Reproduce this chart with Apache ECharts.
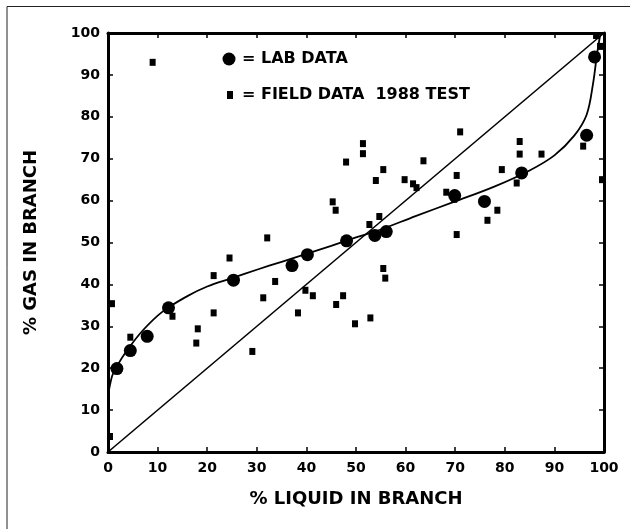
<!DOCTYPE html>
<html>
<head>
<meta charset="utf-8">
<script src="https://cdn.jsdelivr.net/npm/echarts@6/dist/echarts.min.js"></script>
<style>
  html, body { margin: 0; padding: 0; background: #fff; }
  #chart { width: 630px; height: 529px; }
</style>
</head>
<body>
<div id="chart"></div>
<script>
// lab data (circles)
var labX = [1.8, 4.5, 7.9, 12.2, 25.3, 37.1, 40.2, 48.1, 53.8, 56.1, 69.9, 75.9, 83.4, 96.5, 98.1];
var labY = [19.9, 24.2, 27.6, 34.4, 41.0, 44.5, 47.1, 50.4, 51.7, 52.6, 61.2, 59.8, 66.6, 75.6, 94.3];

// field data 1988 test (squares)
var fieldX = [0.8, 0.4, 9.0, 4.5, 13.0, 17.8, 18.1, 21.3, 21.3, 24.5, 29.1, 31.3, 32.1, 33.7, 38.3, 39.8, 41.3,
  46.0, 45.3, 45.9, 47.4, 48.0, 49.8, 51.4, 51.4, 52.9, 52.7, 54.0, 54.7, 55.5, 55.5, 55.9, 59.8, 61.5, 62.2,
  63.6, 68.2, 70.3, 70.3, 69.8, 71.0, 76.5, 78.5, 79.4, 82.4, 83.0, 83.0, 87.4, 95.8, 99.2, 98.4, 99.6];
var fieldY = [35.4, 3.7, 93.0, 27.4, 32.4, 26.0, 29.4, 33.2, 42.1, 46.3, 24.0, 36.8, 51.1, 40.7, 33.2, 38.6, 37.3,
  35.2, 59.7, 57.7, 37.3, 69.2, 30.6, 71.2, 73.6, 32.0, 54.3, 64.8, 56.2, 67.4, 43.8, 41.5, 65.0, 64.0, 63.1,
  69.5, 62.0, 66.0, 51.9, 60.3, 76.4, 55.3, 57.7, 67.4, 64.2, 71.1, 74.1, 71.1, 73.0, 96.8, 99.4, 65.0];

// hand-fitted curve through the lab data
var curveX = [0, 0.8, 1.8, 4, 7, 11, 16, 20, 25, 30, 35, 40, 45, 50, 55, 62, 70, 78, 85, 90, 94, 96.5, 97.8, 98.6, 99.3];
var curveY = [13.3, 18, 20.5, 24.5, 29, 33.5, 37.2, 39.5, 41.5, 43.5, 45.4, 47.3, 49.2, 51.2, 53.1, 56.3, 59.8, 63.4, 67.2, 70.8, 75.5, 80.5, 88, 95, 100];

// line of equal split
var diagX = [0, 100];
var diagY = [0, 100];

function pairs(xs, ys) {
  var out = [];
  for (var i = 0; i < xs.length; i++) out.push([xs[i], ys[i]]);
  return out;
}

var chart = echarts.init(document.getElementById('chart'));
var font = 'DejaVu Sans';
var axisLine = { show: true, onZero: false, lineStyle: { color: '#000', width: 3 } };
var tick = { show: true, inside: true, length: 5, lineStyle: { color: '#000', width: 1.5 } };
var label = { color: '#000', fontFamily: font, fontWeight: 'bold', fontSize: 14 };
var nameStyle = { color: '#000', fontFamily: font, fontWeight: 'bold', fontSize: 18 };

var option = {
  backgroundColor: '#fff',
  animation: false,
  grid: { left: 108, right: 26, top: 33, bottom: 77 },
  xAxis: [
    {
      type: 'value', min: 0, max: 100, interval: 10, position: 'bottom',
      name: '% LIQUID IN BRANCH', nameLocation: 'middle', nameGap: 38, nameTextStyle: nameStyle,
      axisLine: axisLine, axisTick: tick, splitLine: { show: false },
      axisLabel: Object.assign({ margin: 9 }, label)
    },
    {
      type: 'value', min: 0, max: 100, interval: 10, position: 'top',
      axisLine: axisLine, axisTick: tick, splitLine: { show: false }, axisLabel: { show: false }
    }
  ],
  yAxis: [
    {
      type: 'value', min: 0, max: 100, interval: 10, position: 'left',
      name: '% GAS IN BRANCH', nameLocation: 'middle', nameGap: 68, nameRotate: 90, nameTextStyle: nameStyle,
      axisLine: axisLine, axisTick: tick, splitLine: { show: false },
      axisLabel: Object.assign({ margin: 8 }, label)
    },
    {
      type: 'value', min: 0, max: 100, interval: 10, position: 'right',
      axisLine: axisLine, axisTick: tick, splitLine: { show: false }, axisLabel: { show: false }
    }
  ],
  series: [
    {
      name: 'diagonal', type: 'line', data: pairs(diagX, diagY), showSymbol: false,
      lineStyle: { color: '#000', width: 1.6 }
    },
    {
      name: 'fit', type: 'line', data: pairs(curveX, curveY), showSymbol: false, smooth: 0.35,
      lineStyle: { color: '#000', width: 1.8 }
    },
    {
      name: 'FIELD DATA', type: 'scatter', data: pairs(fieldX, fieldY), symbol: 'rect', symbolSize: [6, 7],
      itemStyle: { color: '#000', opacity: 1 }
    },
    {
      name: 'LAB DATA', type: 'scatter', data: pairs(labX, labY), symbol: 'circle', symbolSize: 13,
      itemStyle: { color: '#000', opacity: 1 }
    }
  ],
  graphic: [
    { type: 'rect', shape: { x: 7, y: 6.5, width: 640, height: 600 }, style: { fill: 'none', stroke: '#222', lineWidth: 1 } },
    { type: 'circle', shape: { cx: 229, cy: 59, r: 6.5 }, style: { fill: '#000' } },
    { type: 'text', x: 242, y: 59, style: { text: '= LAB DATA', fill: '#000', font: 'bold 16px "DejaVu Sans"', verticalAlign: 'middle' } },
    { type: 'rect', shape: { x: 227, y: 91, width: 6, height: 8 }, style: { fill: '#000' } },
    { type: 'text', x: 242, y: 95, style: { text: '= FIELD DATA  1988 TEST', fill: '#000', font: 'bold 16px "DejaVu Sans"', verticalAlign: 'middle' } }
  ]
};
chart.setOption(option);
</script>
</body>
</html>
